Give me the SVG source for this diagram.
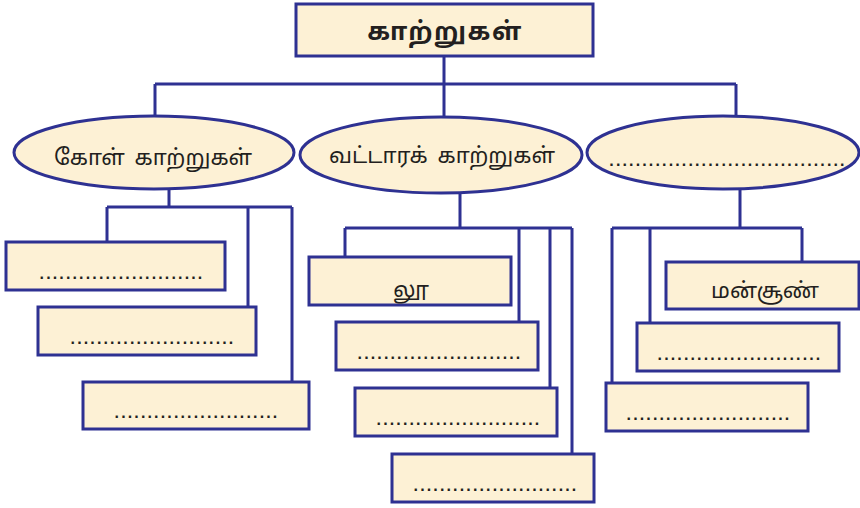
<svg xmlns="http://www.w3.org/2000/svg" width="860" height="508" viewBox="0 0 860 508">
<style>
.n{fill:#fdf1d5;stroke:#2e3192;stroke-width:3}
.c{fill:none;stroke:#2e3192;stroke-width:3}
.t{font-family:"Noto Sans Tamil","Lohit Tamil","Noto Sans",sans-serif;fill:#231f20;text-anchor:middle}
.d{font-family:"Liberation Sans",sans-serif;font-size:16px;font-weight:bold;letter-spacing:2.15px;fill:#231f20;text-anchor:middle}
</style>
<g id="connectors">
<path class="c" d="M444,56V84M155,84H736M155,84V116M444,84V116M736,84V116"/>
<path class="c" d="M169,189V207M107,207H292M107,207V242M248,207V307M292,207V381"/>
<path class="c" d="M460,194V228M345,228H572M345,228V257M519,228V322M550,228V388M572,228V454"/>
<path class="c" d="M740,189V228M612,228H802M612,228V383M650,228V323M802,228V262"/>
</g>
<g id="title"><rect class="n" x="296" y="4" width="297" height="52"/><text class="t" x="445" y="40" font-size="25" font-weight="bold" letter-spacing="1.5">காற்றுகள்</text></g>
<g id="e1"><ellipse class="n" cx="154" cy="152.5" rx="140" ry="36.5"/><text class="t" x="153" y="165" font-size="22" word-spacing="4">கோள் காற்றுகள்</text></g>
<g id="e2"><ellipse class="n" cx="441" cy="155" rx="141" ry="38"/><text class="t" x="442" y="163" font-size="22" word-spacing="4">வட்டாரக் காற்றுகள்</text></g>
<g id="e3"><ellipse class="n" cx="723" cy="152.5" rx="136" ry="36.5"/><text class="d" x="728" y="166">....................................</text></g>
<g id="b1"><rect class="n" x="6" y="242" width="219" height="48"/><text class="d" x="122" y="279">.........................</text></g>
<g id="b2"><rect class="n" x="38" y="307" width="218" height="48"/><text class="d" x="153" y="344">.........................</text></g>
<g id="b3"><rect class="n" x="83" y="382" width="226" height="47"/><text class="d" x="197" y="418">.........................</text></g>
<g id="b4"><rect class="n" x="309" y="257" width="202" height="48"/><text class="t" x="411" y="297" font-size="22">லூ</text></g>
<g id="b5"><rect class="n" x="336" y="322" width="202" height="48"/><text class="d" x="440" y="359">.........................</text></g>
<g id="b6"><rect class="n" x="355" y="388" width="202" height="48"/><text class="d" x="459" y="425">.........................</text></g>
<g id="b7"><rect class="n" x="392" y="454" width="202" height="48"/><text class="d" x="496" y="491">.........................</text></g>
<g id="b8"><rect class="n" x="666" y="262" width="193" height="47"/><text class="t" x="765" y="298" font-size="22">மன்சூண்</text></g>
<g id="b9"><rect class="n" x="637" y="323" width="202" height="48"/><text class="d" x="740" y="360">.........................</text></g>
<g id="b10"><rect class="n" x="606" y="383" width="202" height="48"/><text class="d" x="709" y="420">.........................</text></g>
</svg>
